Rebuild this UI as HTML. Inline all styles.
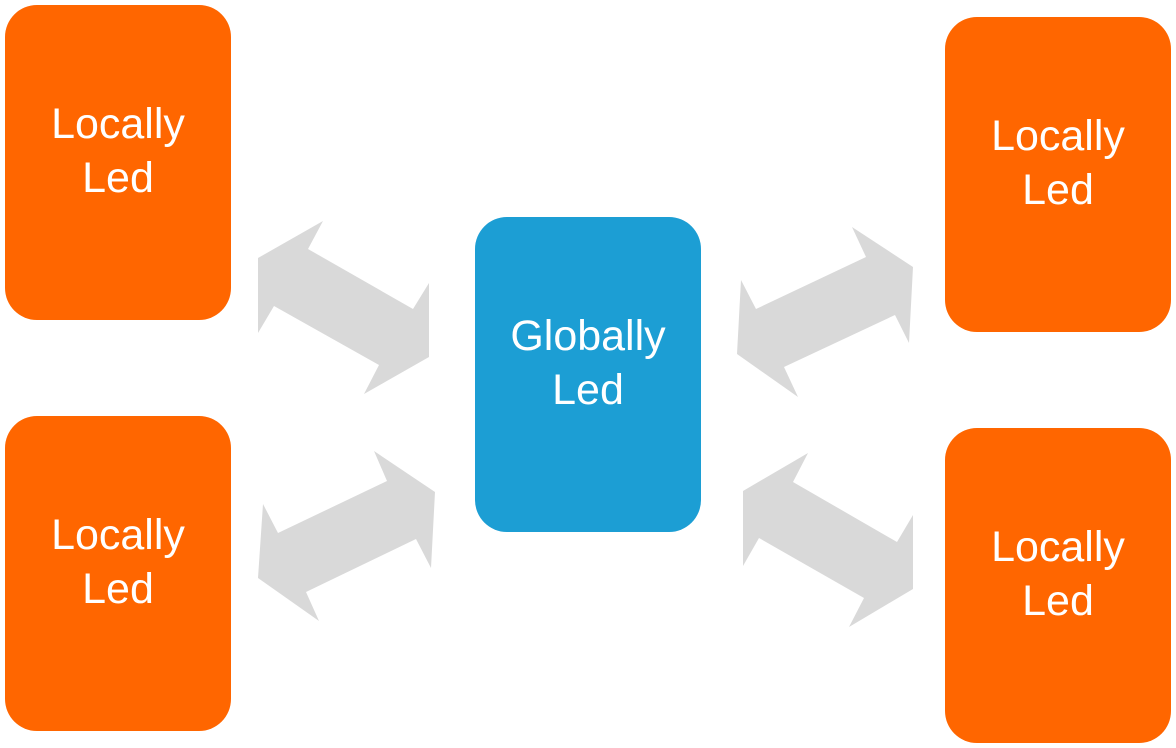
<!DOCTYPE html>
<html><head><style>
body{margin:0;width:1176px;height:748px;background:#fff;position:relative;overflow:hidden;font-family:"Liberation Sans",sans-serif}
.b{position:absolute;width:226px;height:315px;box-sizing:border-box;padding-bottom:24px;border-radius:32px;background:#FF6600;color:#fff;display:flex;align-items:center;justify-content:center;text-align:center;font-size:43px;line-height:54px}
.g{background:#1C9ED4}
svg{position:absolute;left:0;top:0}
</style></head><body>
<svg width="1176" height="748"><g fill="#D9D9D9">
<polygon points="258,258 323,221 308,249 413,309 429,283 429,357 364,394 379,365 274,306 258,333"/>
<polygon points="741,280 756,309 866,257 852,227 913,267 909,343 895,315 784,367 798,397 737,354"/>
<polygon points="263,504 278,533 387,481 374,451 435,492 431,568 416,539 306,592 319,621 258,578"/>
<polygon points="743,491 808,453 793,482 897,542 913,515 913,589 849,627 864,598 759,538 743,566"/>
</g></svg>
<div class="b" style="left:5px;top:5px">Locally<br>Led</div>
<div class="b" style="left:5px;top:416px">Locally<br>Led</div>
<div class="b" style="left:945px;top:17px">Locally<br>Led</div>
<div class="b" style="left:945px;top:428px">Locally<br>Led</div>
<div class="b g" style="left:475px;top:217px">Globally<br>Led</div>
</body></html>
